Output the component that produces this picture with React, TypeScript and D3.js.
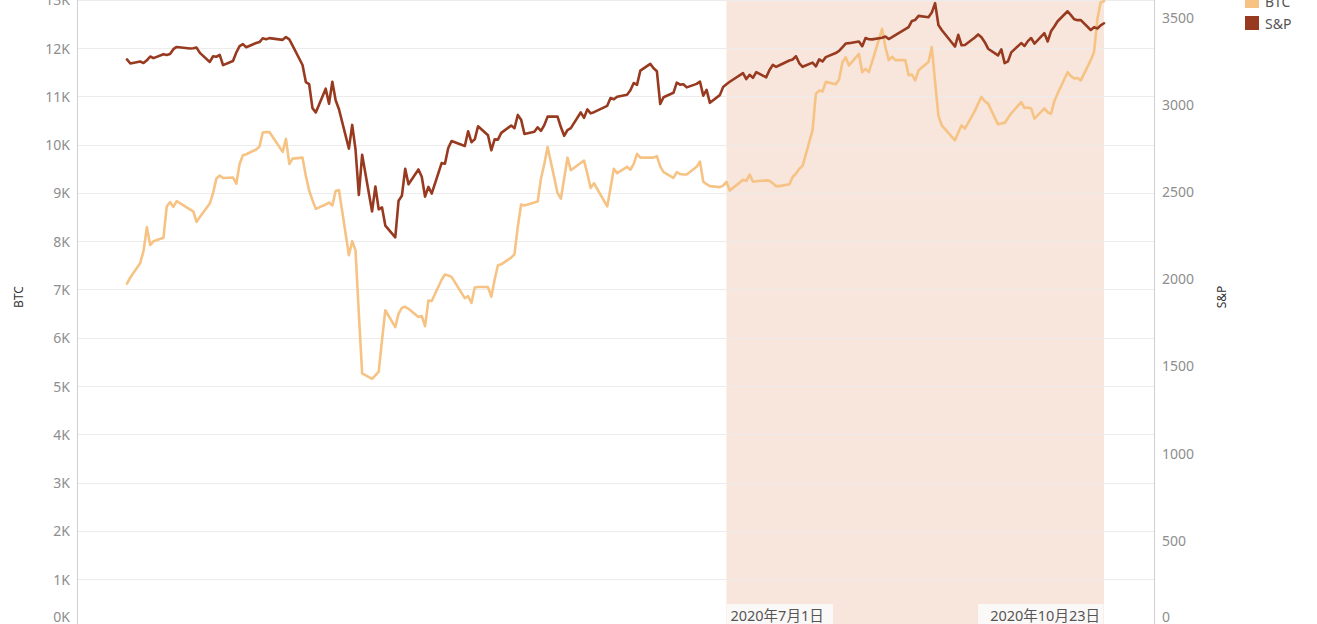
import React from "react";
import * as d3 from "d3";

const dates = [
  "2020-01-02","2020-01-03","2020-01-06","2020-01-07","2020-01-08","2020-01-09","2020-01-10","2020-01-13","2020-01-14","2020-01-15","2020-01-16","2020-01-17","2020-01-21","2020-01-22","2020-01-23","2020-01-24","2020-01-27","2020-01-28","2020-01-29","2020-01-30","2020-01-31",
  "2020-02-03","2020-02-04","2020-02-05","2020-02-06","2020-02-07","2020-02-10","2020-02-11","2020-02-12","2020-02-13","2020-02-14","2020-02-18","2020-02-19","2020-02-20","2020-02-21","2020-02-24","2020-02-25","2020-02-26","2020-02-27","2020-02-28",
  "2020-03-02","2020-03-03","2020-03-04","2020-03-05","2020-03-06","2020-03-09","2020-03-10","2020-03-11","2020-03-12","2020-03-13","2020-03-16","2020-03-17","2020-03-18","2020-03-19","2020-03-20","2020-03-23","2020-03-24","2020-03-25","2020-03-26","2020-03-27","2020-03-30","2020-03-31",
  "2020-04-01","2020-04-02","2020-04-03","2020-04-06","2020-04-07","2020-04-08","2020-04-09","2020-04-13","2020-04-14","2020-04-15","2020-04-16","2020-04-17","2020-04-20","2020-04-21","2020-04-22","2020-04-23","2020-04-24","2020-04-27","2020-04-28","2020-04-29","2020-04-30",
  "2020-05-01","2020-05-04","2020-05-05","2020-05-06","2020-05-07","2020-05-08","2020-05-11","2020-05-12","2020-05-13","2020-05-14","2020-05-15","2020-05-18","2020-05-19","2020-05-20","2020-05-21","2020-05-22","2020-05-26","2020-05-27","2020-05-28","2020-05-29",
  "2020-06-01","2020-06-02","2020-06-03","2020-06-04","2020-06-05","2020-06-08","2020-06-09","2020-06-10","2020-06-11","2020-06-12","2020-06-15","2020-06-16","2020-06-17","2020-06-18","2020-06-19","2020-06-22","2020-06-23","2020-06-24","2020-06-25","2020-06-26","2020-06-29","2020-06-30",
  "2020-07-01","2020-07-02","2020-07-06","2020-07-07","2020-07-08","2020-07-09","2020-07-10","2020-07-13","2020-07-14","2020-07-15","2020-07-16","2020-07-17","2020-07-20","2020-07-21","2020-07-22","2020-07-23","2020-07-24","2020-07-27","2020-07-28","2020-07-29","2020-07-30","2020-07-31",
  "2020-08-03","2020-08-04","2020-08-05","2020-08-06","2020-08-07","2020-08-10","2020-08-11","2020-08-12","2020-08-13","2020-08-14","2020-08-17","2020-08-18","2020-08-19","2020-08-20","2020-08-21","2020-08-24","2020-08-25","2020-08-26","2020-08-27","2020-08-28","2020-08-31",
  "2020-09-01","2020-09-02","2020-09-03","2020-09-04","2020-09-08","2020-09-09","2020-09-10","2020-09-11","2020-09-14","2020-09-15","2020-09-16","2020-09-17","2020-09-18","2020-09-21","2020-09-22","2020-09-23","2020-09-24","2020-09-25","2020-09-28","2020-09-29","2020-09-30",
  "2020-10-01","2020-10-02","2020-10-05","2020-10-06","2020-10-07","2020-10-08","2020-10-09","2020-10-12","2020-10-13","2020-10-14","2020-10-15","2020-10-16","2020-10-19","2020-10-20","2020-10-21","2020-10-22","2020-10-23",
];

// BTC in thousands of USD
const btc = [
  7.12,7.25,7.55,7.8,8.29,7.92,8.0,8.07,8.72,8.81,8.71,8.83,8.66,8.62,8.4,8.5,8.78,9.0,9.3,9.36,9.31,
  9.32,9.19,9.6,9.78,9.8,9.9,9.96,10.25,10.26,10.26,9.85,10.12,9.6,9.71,9.73,9.35,9.05,8.85,8.67,
  8.76,8.8,8.74,9.04,9.06,7.71,8.0,7.81,6.5,5.26,5.15,5.22,5.3,5.95,6.57,6.22,6.5,6.62,6.64,6.6,6.43,6.45,
  6.24,6.77,6.76,7.2,7.31,7.29,7.26,6.82,6.86,6.72,7.04,7.05,7.05,6.85,7.2,7.5,7.52,7.66,7.73,8.3,8.76,
  8.74,8.8,8.82,9.3,9.6,9.95,9.0,8.88,9.3,9.73,9.47,9.62,9.67,9.4,9.1,9.2,8.72,9.1,9.5,9.41,
  9.54,9.48,9.6,9.81,9.73,9.73,9.73,9.76,9.55,9.43,9.31,9.43,9.39,9.38,9.38,9.54,9.65,9.23,9.18,9.14,9.12,9.15,
  9.23,9.05,9.27,9.25,9.38,9.23,9.24,9.26,9.25,9.2,9.14,9.14,9.18,9.33,9.4,9.5,9.56,10.3,11.05,11.12,11.1,11.3,
  11.25,11.35,11.7,11.81,11.64,11.88,11.5,11.57,11.5,11.72,12.4,12.02,11.75,11.82,11.75,11.75,11.44,11.45,11.33,11.54,11.71,
  12.02,11.3,10.6,10.4,10.09,10.25,10.4,10.33,10.7,10.85,10.99,10.9,10.85,10.42,10.44,10.45,10.55,10.65,10.88,10.76,10.77,
  10.75,10.54,10.75,10.67,10.64,10.9,11.06,11.5,11.42,11.37,11.38,11.33,11.75,11.92,12.6,12.95,12.97,
];

const sp = [
  3257.85,3234.85,3246.28,3237.18,3253.05,3274.7,3265.35,3288.13,3283.15,3289.29,3316.81,3329.62,3320.79,3321.75,3325.54,3295.47,3243.63,3276.24,3273.4,3283.66,3225.52,
  3248.92,3297.59,3334.69,3345.78,3327.71,3352.09,3357.75,3379.45,3373.94,3380.16,3370.29,3386.15,3373.23,3337.75,3225.89,3128.21,3116.39,2978.76,2954.22,
  3090.23,3003.37,3130.12,3023.94,2972.37,2746.56,2882.23,2741.38,2480.64,2711.02,2386.13,2529.19,2398.1,2409.39,2304.92,2237.4,2447.33,2475.56,2630.07,2541.47,2626.65,2584.59,
  2470.5,2526.9,2488.65,2663.68,2659.41,2749.98,2789.82,2761.63,2846.06,2783.36,2799.55,2874.56,2823.16,2736.56,2799.31,2797.8,2836.74,2878.48,2863.39,2939.51,2912.43,
  2830.71,2842.74,2868.44,2848.42,2881.19,2929.8,2930.32,2870.12,2820.0,2852.5,2863.7,2953.91,2922.94,2971.61,2948.51,2955.45,2991.77,3036.13,3029.73,3044.31,
  3055.73,3080.82,3122.87,3112.35,3193.93,3232.39,3207.18,3190.14,3002.1,3041.31,3066.59,3124.74,3113.49,3115.34,3097.74,3117.86,3131.29,3050.33,3083.76,3009.05,3053.24,3100.29,
  3115.86,3130.01,3179.72,3145.32,3169.94,3152.05,3185.04,3155.22,3197.52,3226.56,3215.57,3224.73,3251.84,3257.3,3276.02,3235.66,3215.63,3239.41,3218.44,3258.44,3246.22,3271.12,
  3294.61,3306.51,3327.77,3349.16,3351.28,3360.47,3333.69,3380.35,3373.43,3372.85,3381.99,3389.78,3374.85,3385.51,3397.16,3431.28,3443.62,3478.73,3484.55,3508.01,3500.31,
  3526.65,3580.84,3455.06,3426.96,3331.84,3398.96,3339.19,3340.97,3383.54,3401.2,3385.49,3357.01,3319.47,3281.06,3315.57,3236.92,3246.59,3298.46,3351.6,3335.47,3363.0,
  3380.8,3348.42,3408.6,3360.97,3419.44,3446.83,3477.14,3534.22,3511.93,3488.67,3483.34,3483.81,3426.92,3443.12,3435.56,3453.49,3465.39,
];

const btcTicks = [0,1,2,3,4,5,6,7,8,9,10,11,12,13];
const spTicks = [0,500,1000,1500,2000,2500,3000,3500];
const seriesNames = ["BTC","S&P"];
const bandDates = ["2020-07-01","2020-10-23"];
const bandLabels = ["2020年7月1日","2020年10月23日"];

const W = 1317, H = 624;
const FONT = "'Noto Sans', 'Noto Sans CJK JP', sans-serif";
const C_BTC = "#F6C384";
const C_SP = "#983A1F";
const C_BAND = "#F8E6DC";

export default function App() {
  const parse = d3.timeParse("%Y-%m-%d");
  const ds = dates.map((s) => parse(s) as Date);
  const x = d3.scaleTime().domain([ds[0], ds[ds.length - 1]]).range([127, 1104]);
  const yL = d3.scaleLinear().domain([0, 13]).range([627.4, -0.2]);
  const yR = d3.scaleLinear().domain([0, 3600]).range([627.4, -0.2]);
  const lineB = d3.line<number>().x((_, i) => x(ds[i])).y((d) => yL(d));
  const lineS = d3.line<number>().x((_, i) => x(ds[i])).y((d) => yR(d));
  const bx0 = x(parse(bandDates[0]) as Date);
  const bx1 = x(parse(bandDates[1]) as Date);
  const axL = 77.5, axR = 1154.5;

  return (
    <svg width={W} height={H} style={{ position: "absolute", left: 0, top: 0, background: "#fff" }} fontFamily={FONT}>
      <rect x={bx0} y={0} width={bx1 - bx0} height={H} fill={C_BAND} />
      {btcTicks.map((t) => (
        <line key={"g" + t} x1={axL} x2={axR} y1={Math.round(yL(t)) + 0.5} y2={Math.round(yL(t)) + 0.5} stroke="#ececec" strokeWidth={1} />
      ))}
      <line x1={axL} x2={axL} y1={0} y2={H} stroke="#cfcfcf" strokeWidth={1} />
      <line x1={axR} x2={axR} y1={0} y2={H} stroke="#cfcfcf" strokeWidth={1} />
      {btcTicks.map((t) => (
        <text key={"l" + t} x={70} y={Math.min(yL(t), 616)} textAnchor="end" dominantBaseline="central" fontSize={14} fill="#8e8e8e">{t + "K"}</text>
      ))}
      {spTicks.map((t) => (
        <text key={"r" + t} x={1162} y={Math.min(yR(t), 616)} textAnchor="start" dominantBaseline="central" fontSize={14} fill="#8e8e8e">{t}</text>
      ))}
      <text transform={`translate(18,297) rotate(-90)`} textAnchor="middle" dominantBaseline="central" fontSize={12} fill="#333">{seriesNames[0]}</text>
      <text transform={`translate(1221,297) rotate(-90)`} textAnchor="middle" dominantBaseline="central" fontSize={12} fill="#333">{seriesNames[1]}</text>
      <path d={lineB(btc) || ""} fill="none" stroke={C_BTC} strokeWidth={2.6} strokeLinejoin="round" strokeLinecap="round" />
      <path d={lineS(sp) || ""} fill="none" stroke={C_SP} strokeWidth={2.6} strokeLinejoin="round" strokeLinecap="round" />
      <rect x={bx0 + 0.5} y={604} width={106} height={20} fill="#fbf9f8" />
      <text x={bx0 + 4} y={615} dominantBaseline="central" fontSize={14.5} fill="#555">{bandLabels[0]}</text>
      <rect x={bx1 - 126} y={604} width={125.5} height={20} fill="#fbf9f8" />
      <text x={bx1 - 4} y={615} textAnchor="end" dominantBaseline="central" fontSize={14.5} fill="#555">{bandLabels[1]}</text>
      {seriesNames.map((n, i) => (
        <g key={n}>
          <rect x={1245} y={-6 + i * 22} width={14} height={14} fill={i === 0 ? C_BTC : C_SP} />
          <text x={1265} y={1 + i * 22} dominantBaseline="central" fontSize={14} fill="#555">{n}</text>
        </g>
      ))}
    </svg>
  );
}
